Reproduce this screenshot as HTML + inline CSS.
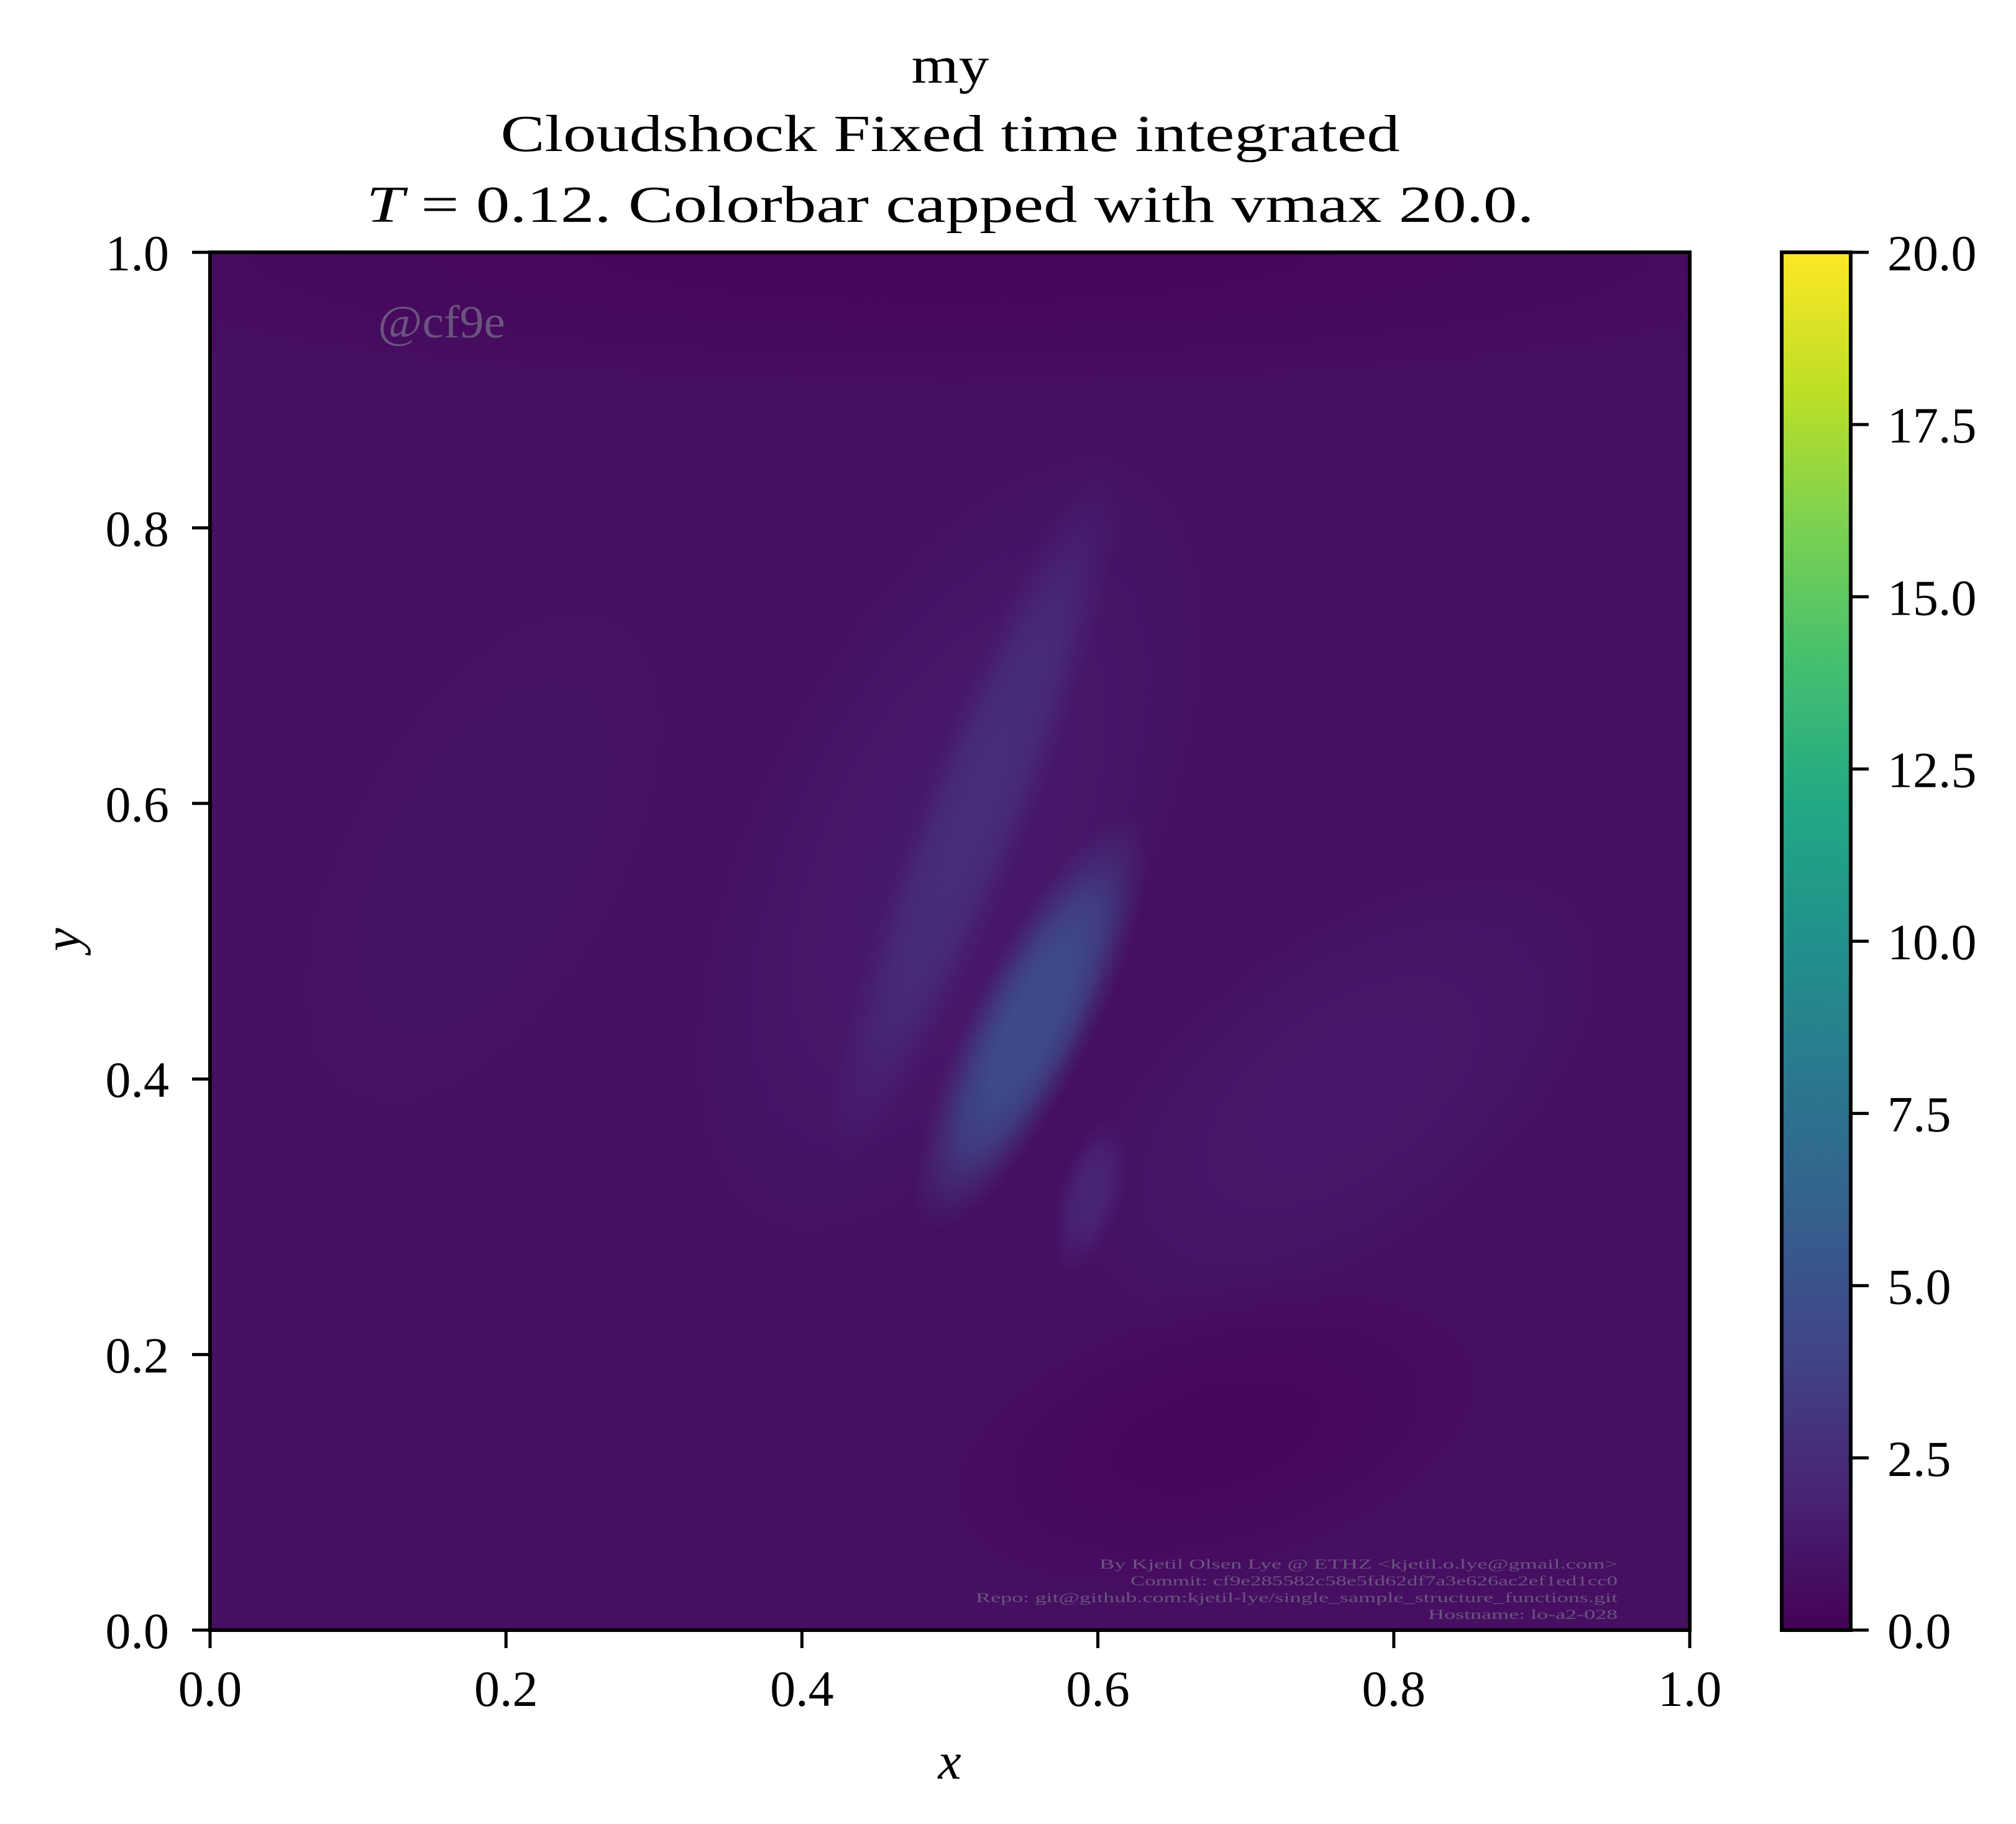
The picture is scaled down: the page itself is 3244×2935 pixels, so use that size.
<!DOCTYPE html>
<html><head><meta charset="utf-8"><style>
html,body{margin:0;padding:0;background:#fff}
svg{display:block}
text{font-family:"Liberation Serif","DejaVu Serif",serif}
</style></head><body>
<svg id="fig" width="3244" height="2935" viewBox="0 0 3244 2935">
<defs id="defs">
<clipPath id="axclip"><rect x="338" y="406" width="2381" height="2217"/></clipPath>
<linearGradient id="cbgrad" x1="0" y1="1" x2="0" y2="0">
<stop offset="0" stop-color="#440154"/><stop offset="0.1" stop-color="#482475"/><stop offset="0.2" stop-color="#414487"/>
<stop offset="0.3" stop-color="#355f8d"/><stop offset="0.4" stop-color="#2a788e"/><stop offset="0.5" stop-color="#21918c"/>
<stop offset="0.6" stop-color="#22a884"/><stop offset="0.7" stop-color="#44bf70"/><stop offset="0.8" stop-color="#7ad151"/>
<stop offset="0.9" stop-color="#bddf26"/><stop offset="1" stop-color="#fde725"/>
</linearGradient>
</defs>
<g font-size="84" text-anchor="middle">
<text x="1529" y="133" textLength="125" lengthAdjust="spacingAndGlyphs">my</text>
<text x="1529" y="243" textLength="1447" lengthAdjust="spacingAndGlyphs">Cloudshock Fixed time integrated</text>
<text x="1529" y="357" textLength="1879" lengthAdjust="spacingAndGlyphs"><tspan font-style="italic">T</tspan> = 0.12. Colorbar capped with vmax 20.0.</text>
</g>
<g id="heat" clip-path="url(#axclip)"></g>
<text x="608" y="543" font-size="74" fill="#6a5480" textLength="205" lengthAdjust="spacingAndGlyphs">@cf9e</text>
<g font-size="22" fill="#6a5480" text-anchor="end">
<text x="2603" y="2524" textLength="834" lengthAdjust="spacingAndGlyphs">By Kjetil Olsen Lye @ ETHZ &lt;kjetil.o.lye@gmail.com&gt;</text>
<text x="2603" y="2551" textLength="784" lengthAdjust="spacingAndGlyphs">Commit: cf9e285582c58e5fd62df7a3e626ac2ef1ed1cc0</text>
<text x="2603" y="2578" textLength="1033" lengthAdjust="spacingAndGlyphs">Repo: git@github.com:kjetil-lye/single_sample_structure_functions.git</text>
<text x="2603" y="2605" textLength="305" lengthAdjust="spacingAndGlyphs">Hostname: lo-a2-028</text>
</g>
<rect x="338" y="406" width="2381" height="2217" fill="none" stroke="#000" stroke-width="6"/>
<g id="axes"></g>
<text x="1528" y="2862" font-size="84" font-style="italic" text-anchor="middle">x</text>
<text x="0" y="0" font-size="84" font-style="italic" text-anchor="middle" transform="translate(128,1512) rotate(-90)">y</text>
<rect x="2867" y="406" width="111" height="2217" fill="url(#cbgrad)"/>
<rect x="2867" y="406" width="111" height="2217" fill="none" stroke="#000" stroke-width="6"/>
<g id="cbaxis"></g>
</svg>
<script>
const xTicks = [0, 0.2, 0.4, 0.6, 0.8, 1.0];
const yTicks = [0, 0.2, 0.4, 0.6, 0.8, 1.0];
const cbTicks = [0, 2.5, 5, 7.5, 10, 12.5, 15, 17.5, 20];
const vmax = 20;
const backgroundValue = 0.8;
// regions: endpoints in data coords, halfwidth (data x units), value
const regionStart = [[-0.2,1.0],[0.36,0.26],[0.58,0.24],[0.48,0.08],[0.425,0.34],[0.485,0.29],[0.58,0.26],[0.05,0.30]];
const regionEnd   = [[1.2,1.0],[0.64,0.88],[0.95,0.54],[0.88,0.20],[0.61,0.85],[0.625,0.59],[0.61,0.37],[0.32,0.82]];
const regionHalfWidth = [0.10, 0.15, 0.12, 0.10, 0.038, 0.042, 0.022, 0.14];
const regionValue = [0.35, 1.35, 1.3, 0.35, 2.6, 4.6, 2.0, 0.95];

const X0=338, Y0=2623, W=2381, H=2217;
const px = x => X0 + x*W;
const py = y => Y0 - y*H;
const cy = v => Y0 - v/vmax*H;
const NS='http://www.w3.org/2000/svg';
const vir=[[68,1,84],[72,36,117],[65,68,135],[53,95,141],[42,120,142],[33,145,140],[34,168,132],[68,191,112],[122,209,81],[189,223,38],[253,231,37]];
function viridis(v){let t=Math.max(0,Math.min(1,v/vmax))*10;let i=Math.min(9,Math.floor(t));let f=t-i;
 const c=vir[i].map((a,k)=>Math.round(a+(vir[i+1][k]-a)*f));return `rgb(${c[0]},${c[1]},${c[2]})`;}
function mk(tag,attrs,parent){const e=document.createElementNS(NS,tag);for(const k in attrs)e.setAttribute(k,attrs[k]);parent.appendChild(e);return e;}

const defs=document.getElementById('defs');
const heat=document.getElementById('heat');
const bg=mk('rect',{x:X0,y:406,width:W,height:H,fill:viridis(backgroundValue)},heat);


regionValue.forEach((v,i)=>{
  const ax=px(regionStart[i][0]), ay=py(regionStart[i][1]), bx=px(regionEnd[i][0]), by=py(regionEnd[i][1]);
  const cx=(ax+bx)/2, cyy=(ay+by)/2, len=Math.hypot(bx-ax,by-ay);
  const ang=Math.atan2(by-ay,bx-ax)*180/Math.PI;
  const col=viridis(v);
  const g=mk('radialGradient',{id:'rg'+i},defs);
  [[0,1],[0.35,0.95],[0.6,0.7],[0.8,0.3],[1,0]].forEach(s=>mk('stop',{offset:s[0],'stop-color':col,'stop-opacity':s[1]},g));
  const e=mk('ellipse',{cx:cx,cy:cyy,rx:len/2,ry:regionHalfWidth[i]*W,fill:`url(#rg${i})`,transform:`rotate(${ang} ${cx} ${cyy})`},heat);
  
  
});

const axes=document.getElementById('axes');
xTicks.forEach(t=>{
  const l=mk('line',{x1:px(t),x2:px(t),y1:Y0,y2:Y0+29,stroke:'#000','stroke-width':5},axes);
  
  
  const tx=mk('text',{x:px(t),y:2745,'font-size':82,'text-anchor':'middle'},axes);
  tx.textContent=t.toFixed(1);
  
  
});
yTicks.forEach(t=>{
  const l=mk('line',{x1:X0-29,x2:X0,y1:py(t),y2:py(t),stroke:'#000','stroke-width':5},axes);
  
  
  const tx=mk('text',{x:272,y:py(t)+29,'font-size':82,'text-anchor':'end'},axes);
  tx.textContent=t.toFixed(1);
  
  
});
const cba=document.getElementById('cbaxis');
cbTicks.forEach(t=>{
  const l=mk('line',{x1:2978,x2:3007,y1:cy(t),y2:cy(t),stroke:'#000','stroke-width':5},cba);
  
  
  const tx=mk('text',{x:3037,y:cy(t)+29,'font-size':82},cba);
  tx.textContent=t.toFixed(1);
  
  
});
</script>
</body></html>
